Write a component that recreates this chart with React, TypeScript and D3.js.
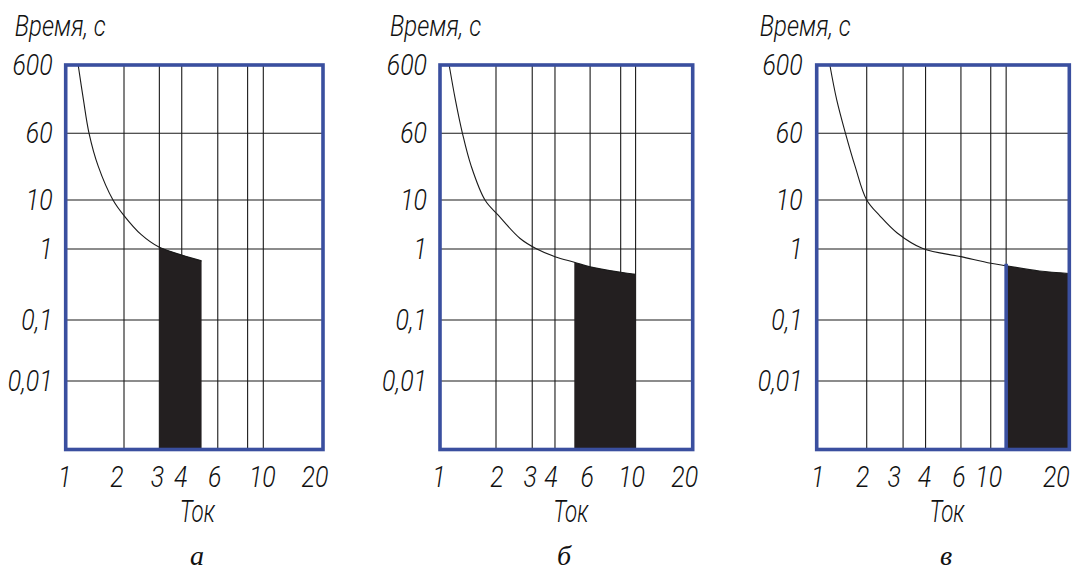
import React from 'react';
import * as d3 from 'd3';

// ---- data ----
const timeTicks = [600, 60, 10, 1, 0.1, 0.01];
const timeTickLabels = ['600', '60', '10', '1', '0,1', '0,01'];
const timeDomain = [600, 60, 10, 1, 0.1, 0.01, 0.001];
const currentTickValues = [1, 2, 3, 4, 6, 10, 20];
const currentTickLabels = ['1', '2', '3', '4', '6', '10', '20'];
const panelTitles = ['а', 'б', 'в'];
const yAxisTitle = 'Время, с';
const xAxisTitle = 'Ток';

// panel а
const gridA = [1, 2, 3, 4, 6, 8, 10, 20];
const curveACurrent = [1.16, 1.235, 1.32, 1.47, 1.755, 2, 2.43, 3, 4, 5];
const curveATime = [600, 185, 60, 25, 10, 4.8, 1.98, 1.08, 0.82, 0.68];
const zoneA = [3, 5];

// panel б
const gridB = [1, 2, 3, 4, 6, 8, 10, 20];
const curveBCurrent = [1.12, 1.21, 1.32, 1.47, 1.745, 2.05, 2.62, 3.18, 4, 5, 6, 8, 10];
const curveBTime = [600, 185, 60, 25, 10, 4.9, 1.64, 1.0, 0.78, 0.65, 0.56, 0.47, 0.44];
const zoneB = [5, 10];

// panel в
const gridC = [1, 2, 3, 4, 6, 10, 12, 20];
const curveCCurrent = [1.2, 1.32, 1.49, 1.7, 2, 2.32, 2.81, 3.86, 6, 10, 12, 15.7, 20];
const curveCTime = [600, 185, 60, 25, 10, 4.71, 2.12, 1.02, 0.78, 0.63, 0.58, 0.49, 0.452];
const zoneC = [12, 20];

// ---- layout ----
const W = 1079;
const H = 571;
const TOP = 65;
const BOTTOM = 449.5;
const yFractions = [0, 0.1776, 0.3511, 0.4785, 0.6632, 0.8218, 1];
const BLUE = '#3a4f9f';
const FILL = '#231f20';
const INK = '#111';
const SANS = "Roboto, 'DejaVu Sans', sans-serif";
const SERIF = "'Liberation Serif', 'DejaVu Serif', serif";

const panels = [
  {
    left: 65.7, right: 323, grid: gridA, xFrac: [0, 0.2266, 0.364, 0.451, 0.591, 0.707, 0.768, 1],
    cx: curveACurrent, ct: curveATime, zone: zoneA, zoneBlue: false,
    labelGap: 13, titleOff: 51, midOff: 3, capOff: 2.7, nudge: [0, -6, -1, 0, -2, 0, -7],
  },
  {
    left: 440, right: 692.7, grid: gridB, xFrac: [0, 0.2216, 0.365, 0.455, 0.594, 0.715, 0.774, 1],
    cx: curveBCurrent, ct: curveBTime, zone: zoneB, zoneBlue: false,
    labelGap: 13, titleOff: 50, midOff: 4.5, capOff: -2.3, nudge: [0, 2, -1, -3, -2, -3, -7],
  },
  {
    left: 816.7, right: 1069.3, grid: gridC, xFrac: [0, 0.198, 0.342, 0.431, 0.571, 0.689, 0.75, 1],
    cx: curveCCurrent, ct: curveCTime, zone: zoneC, zoneBlue: true,
    labelGap: 14, titleOff: 57, midOff: 4, capOff: 3, nudge: [2, -3, -8, 0, -1, -1, -12],
  },
];

const y = d3
  .scaleLog()
  .domain(timeDomain)
  .range(yFractions.map((f) => TOP + f * (BOTTOM - TOP)));

function T({ x, y, sx, size, anchor, children }: any) {
  return (
    <text
      transform={`translate(${x},${y}) scale(${sx},1)`}
      textAnchor={anchor || 'start'}
      fontFamily={SANS}
      fontStyle="italic"
      fontWeight={300}
      fontSize={size}
      fill={INK}
    >
      {children}
    </text>
  );
}

function Panel({ p, idx }: { p: any; idx: number }) {
  const x = d3
    .scaleLog()
    .domain(p.grid)
    .range(p.xFrac.map((f: number) => p.left + f * (p.right - p.left)));
  const pts: [number, number][] = p.cx.map((c: number, i: number) => [c, p.ct[i]]);
  const line = d3
    .line<[number, number]>()
    .x((d) => x(d[0]))
    .y((d) => y(d[1]))
    .curve(d3.curveCatmullRom.alpha(0.5));
  const zonePts = pts.filter((d) => d[0] >= p.zone[0] - 1e-9 && d[0] <= p.zone[1] + 1e-9);
  const area = d3
    .area<[number, number]>()
    .x((d) => x(d[0]))
    .y0(y(0.001))
    .y1((d) => y(d[1]))
    .curve(d3.curveCatmullRom.alpha(0.5));
  const inner = p.grid.slice(1, -1);
  const zoneStartTime = zonePts[0][1];
  const cx = (p.left + p.right) / 2;
  return (
    <g>
      {timeTicks.slice(1).map((t) => (
        <line key={'h' + t} x1={p.left} x2={p.right} y1={y(t)} y2={y(t)} stroke="#1a1a1a" strokeWidth={1.1} />
      ))}
      {inner.map((g: number) => (
        <line key={'v' + g} x1={x(g)} x2={x(g)} y1={TOP} y2={BOTTOM} stroke="#1a1a1a" strokeWidth={1.1} />
      ))}
      <path d={area(zonePts) || ''} fill={FILL} />
      <path d={line(pts) || ''} fill="none" stroke="#1a1a1a" strokeWidth={1.1} />
      {p.zoneBlue && (
        <line x1={x(p.zone[0])} x2={x(p.zone[0])} y1={y(zoneStartTime) - 2} y2={BOTTOM} stroke={BLUE} strokeWidth={3.6} />
      )}
      <rect x={p.left} y={TOP} width={p.right - p.left} height={BOTTOM - TOP} fill="none" stroke={BLUE} strokeWidth={3.6} />
      {timeTicks.map((t, i) => (
        <T key={'yl' + t} x={p.left - p.labelGap} y={y(t) + 10} sx={0.86} size={29} anchor="end">
          {timeTickLabels[i]}
        </T>
      ))}
      {currentTickValues.map((v, i) => (
        <T key={'xl' + v} x={x(v) - 1 + p.nudge[i]} y={487} sx={0.86} size={29} anchor="middle">
          {currentTickLabels[i]}
        </T>
      ))}
      <T x={p.left - p.titleOff} y={36} sx={0.8} size={30}>
        {yAxisTitle}
      </T>
      <T x={cx + p.midOff} y={522} sx={0.72} size={31} anchor="middle">
        {xAxisTitle}
      </T>
      <text x={cx + p.capOff} y={565} textAnchor="middle" fontFamily={SERIF} fontStyle="italic" fontSize={28} fill={INK}>
        {panelTitles[idx]}
      </text>
    </g>
  );
}

export default function App() {
  return (
    <svg width={W} height={H} style={{ position: 'absolute', left: 0, top: 0, background: '#fff' }}>
      <rect width={W} height={H} fill="#fff" />
      {panels.map((p, i) => (
        <Panel key={i} p={p} idx={i} />
      ))}
    </svg>
  );
}
